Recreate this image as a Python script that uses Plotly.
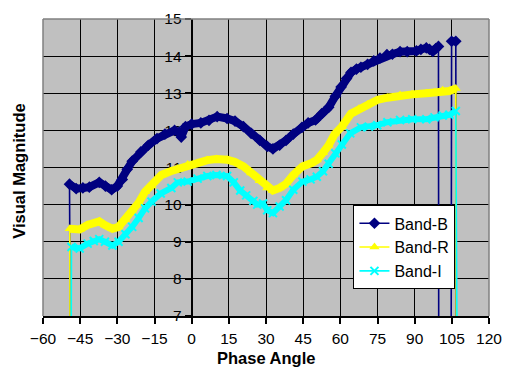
import plotly.graph_objects as go

# Phase angle (deg) and visual magnitude readings; 0 = missing reading (drawn as drop line off-chart)
B_x = [-48.5, -49.3, -46.6, -43.9, -41.3, -37.3, -34.8, -32.3, -30, -28, -26, -24, -20.5, -17.5, -14,
       -10.8, -6.9, -5, -4.2, -2.5, 0, 3.7, 7, 10.3, 14.3, 17.5, 20.9, 24, 27.5, 30.5, 32.8, 35.5,
       38.1, 41, 44.5, 47, 50, 52.5, 55.3, 58, 60.3, 62.5, 64.3, 66.5, 68.3, 71, 73.5, 76, 78.8, 81,
       84.1, 87, 90.7, 92.5, 94.7, 96, 97.3, 98.5, 99.6, 99.8, 104.6, 104.9, 106.6, 106.9]
B_y = [0, 10.55, 10.43, 10.45, 10.47, 10.6, 10.5, 10.4, 10.5, 10.68, 10.95, 11.17, 11.42, 11.6, 11.78,
       11.9, 12.0, 11.95, 11.82, 12.1, 12.17, 12.2, 12.27, 12.37, 12.32, 12.25, 12.1, 11.92, 11.73,
       11.57, 11.5, 11.6, 11.73, 11.9, 12.08, 12.2, 12.28, 12.45, 12.62, 12.92, 13.17, 13.4, 13.56,
       13.65, 13.7, 13.78, 13.87, 13.95, 14.04, 14.05, 14.12, 14.12, 14.14, 14.18, 14.22, 14.18,
       14.13, 14.2, 14.26, 0, 0, 14.4, 14.4, 0]

R_x = [-48.8, -49.2, -47, -45.2, -42, -39.5, -37.3, -35, -32, -29.5, -26.7, -24, -21.4, -18.8, -16.2,
       -12.2, -8.5, -5.6, -1.6, 2.4, 6.3, 10, 14.3, 17.5, 20.9, 24, 27.5, 30.5, 32.8, 35.5, 38.1, 41,
       44.7, 48.4, 50.5, 53, 55.3, 57.7, 60.6, 64.3, 67.5, 71, 74.9, 79, 84.1, 89, 94.7, 98, 101.3,
       104, 106.6, 107.0]
R_y = [0, 9.35, 9.32, 9.33, 9.45, 9.5, 9.55, 9.45, 9.35, 9.4, 9.6, 9.85, 10.05, 10.35, 10.5, 10.8,
       10.9, 10.97, 11.08, 11.12, 11.2, 11.23, 11.21, 11.15, 11.03, 10.85, 10.64, 10.45, 10.38, 10.45,
       10.56, 10.8, 11.03, 11.12, 11.2, 11.4, 11.6, 11.9, 12.1, 12.45, 12.58, 12.7, 12.82, 12.88,
       12.95, 12.97, 13.0, 13.02, 13.08, 13.06, 13.13, 0]

I_x = [-49.0, -48.5, -45.2, -42, -39.5, -37.3, -35, -32, -29.5, -26.7, -24, -21.4, -18.8, -16.2, -12.5,
       -8.2, -5.6, -1.6, 2.4, 6.3, 10, 14.3, 17, 19.6, 22, 24.9, 26.5, 28.8, 30.5, 32.8, 35.5, 38.1,
       41, 44.7, 48, 50.5, 53, 55.3, 58, 60.6, 64, 68.3, 71.5, 74.9, 79, 84.1, 89, 94.7, 98, 101.3,
       104, 106.6, 107.6]
I_y = [0, 8.86, 8.82, 8.95, 9.02, 9.07, 9.0, 8.9, 9.0, 9.2, 9.4, 9.64, 9.9, 10.08, 10.3, 10.45, 10.6,
       10.62, 10.7, 10.77, 10.8, 10.77, 10.6, 10.38, 10.25, 10.1, 10.0, 10.03, 9.85, 9.77, 9.95, 10.12,
       10.4, 10.62, 10.68, 10.75, 10.9, 11.1, 11.38, 11.62, 11.92, 12.08, 12.1, 12.14, 12.22, 12.28,
       12.3, 12.3, 12.35, 12.4, 12.42, 12.52, 0]

series = [
    ("Band-B", B_x, B_y, "#000080", "diamond", 9, 8),
    ("Band-R", R_x, R_y, "#FFFF00", "triangle-up", 9, 8),
    ("Band-I", I_x, I_y, "#00FFFF", "x-thin-open", 8, 6),
]

FONT = "Liberation Sans, Arial, sans-serif"
fig = go.Figure()
for i, (name, xs, ys, col, sym, msize, bw) in enumerate(series):
    band_y = [v if v > 0 else None for v in ys]
    fig.add_trace(go.Scatter(x=xs, y=band_y, mode="lines", line=dict(color=col, width=bw),
                             showlegend=False, hoverinfo="skip", connectgaps=False))
    mk = dict(symbol=sym, size=msize, color=col)
    if sym.startswith("x"):
        mk["line"] = dict(color=col, width=2)
    fig.add_trace(go.Scatter(x=xs, y=ys, mode="lines+markers", name=name, legendgroup=name,
                             line=dict(color=col, width=1.6), marker=mk))

grid_common = dict(showgrid=True, gridcolor="#000000", gridwidth=1, zeroline=False,
                   tickfont=dict(family=FONT, size=15.5, color="black"),
                   ticks="outside", ticklen=6, tickcolor="black", tickwidth=1.5)

pw, ph = 512 - 43 - 17, 375 - 10 - 59
def px(xp):
    return (xp - 43) / pw
def py(yp):
    return (375 - 59 - yp) / ph

fig.update_layout(
    width=512, height=375,
    margin=dict(l=43, r=17, t=10, b=59),
    paper_bgcolor="white", plot_bgcolor="#C0C0C0",
    font=dict(family=FONT, size=16, color="black"),
    xaxis=dict(range=[-60, 120], dtick=15, tick0=0, showline=True, linecolor="black", linewidth=2,
               layer="below traces", ticklabelstandoff=1, **grid_common),
    yaxis=dict(range=[7, 15], dtick=1, anchor="free", position=1/3, showline=True,
               linecolor="black", linewidth=2, layer="below traces", **grid_common),
    legend=dict(x=px(461), y=py(202), xanchor="right", yanchor="top", bgcolor="white",
                bordercolor="black", borderwidth=1, font=dict(family=FONT, size=16),
                tracegroupgap=0, itemwidth=30),
    showlegend=True,
    annotations=[
        dict(text="<b>Phase Angle</b>", x=px(269), y=py(359), xref="paper", yref="paper",
             xanchor="center", yanchor="middle", showarrow=False,
             font=dict(family=FONT, size=16.5)),
        dict(text="<b>Visual Magnitude</b>", x=px(19), y=py(167), xref="paper", yref="paper",
             xanchor="center", yanchor="middle", textangle=-90, showarrow=False,
             font=dict(family=FONT, size=16.5)),
    ],
    shapes=[
        dict(type="line", xref="paper", yref="paper", x0=0, x1=1, y0=1, y1=1,
             line=dict(color="#808080", width=1.5), layer="above"),
        dict(type="line", xref="paper", yref="paper", x0=1, x1=1, y0=0, y1=1,
             line=dict(color="#808080", width=1.5), layer="above"),
        dict(type="line", xref="paper", yref="paper", x0=0, x1=0, y0=0, y1=1,
             line=dict(color="#808080", width=1.5), layer="above"),
    ],
)

fig.write_html("out.html")
